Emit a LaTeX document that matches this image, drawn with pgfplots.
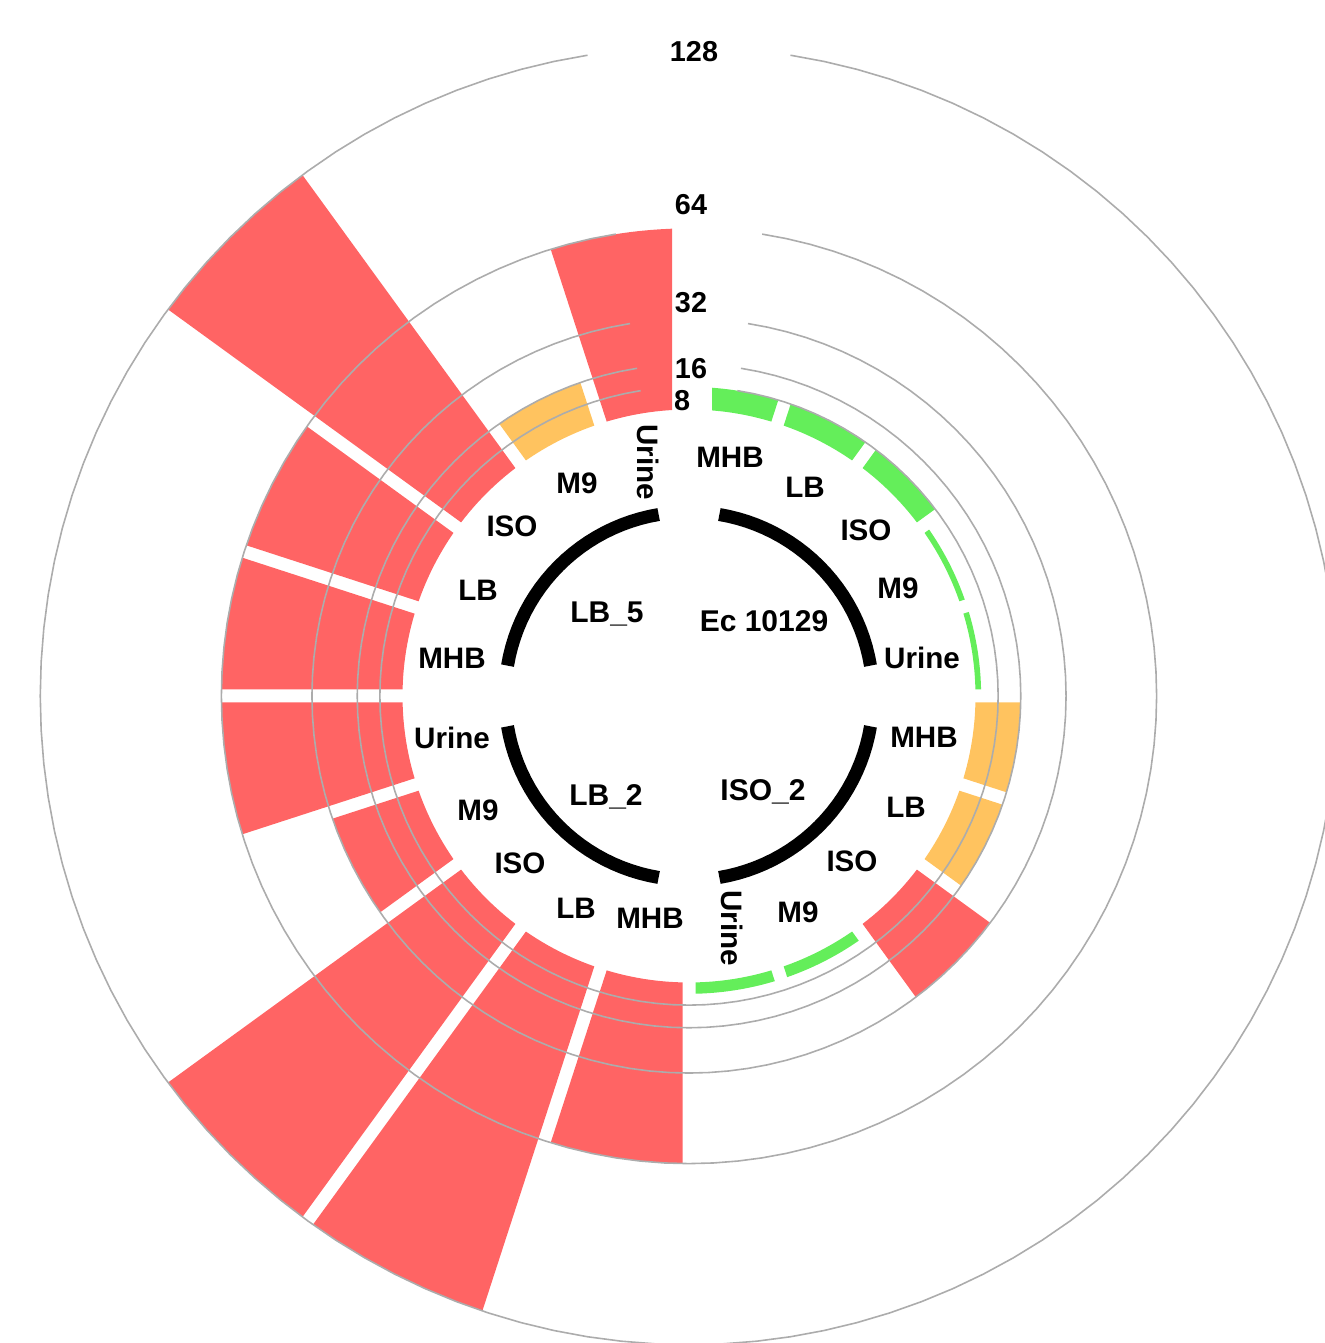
\documentclass[border=0pt]{standalone}
\usepackage{pgfplots}
\usepackage{pgfplotstable}
\pgfplotsset{compat=1.18}
\usepgfplotslibrary{polar}
\usepackage{fontspec}
\setmainfont{Liberation Sans}

\definecolor{barred}{RGB}{255,100,100}
\definecolor{barorange}{RGB}{255,195,95}
\definecolor{bargreen}{RGB}{100,238,90}
\definecolor{ringgray}{RGB}{172,172,172}

% radius (px) = \rz + \ks * value
\def\rz{286.5}
\def\ks{2.83}

% bars: slot (18 degrees each, clockwise from top), MIC value, colour
\pgfplotstableread{
slot value col
0  8   bargreen
1  8   bargreen
2  8   bargreen
3  2   bargreen
4  2   bargreen
5  16  barorange
6  16  barorange
7  32  barred
8  4   bargreen
9  4   bargreen
10 64  barred
11 128 barred
12 128 barred
13 32  barred
14 64  barred
15 64  barred
16 64  barred
17 128 barred
18 16  barorange
19 64  barred
}\bars

\newcommand\polarbar[3]{%
  \pgfmathsetmacro\bA{18*#1}%
  \pgfmathsetmacro\bB{18*(#1+1)}%
  \pgfmathsetmacro\pA{ifthenelse(#1==0,23,6.5)}%
  \pgfmathsetmacro\pB{ifthenelse(#1==19,17,6.5)}%
  \pgfmathsetmacro\Ro{\rz+\ks*#2}%
  \pgfmathsetmacro\oA{\bA+asin(\pA/\Ro)}%
  \pgfmathsetmacro\oB{\bB-asin(\pB/\Ro)}%
  \pgfmathsetmacro\iA{\bA+asin(\pA/\rz)}%
  \pgfmathsetmacro\iB{\bB-asin(\pB/\rz)}%
  \gdef\bl{}%
  \foreach \t in {0,...,12}{%
    \pgfmathsetmacro\ang{90-(\oA+(\oB-\oA)*\t/12)}%
    \xdef\bl{\bl (\ang,\Ro)}%
  }%
  \foreach \t in {0,...,12}{%
    \pgfmathsetmacro\ang{90-(\iB+(\iA-\iB)*\t/12)}%
    \xdef\bl{\bl (\ang,\rz)}%
  }%
  \edef\doplot{\noexpand\addplot[fill=#3,draw=none,data cs=polar] coordinates {\bl};}%
  \doplot
}

\newcommand\ring[1]{%
  \pgfmathsetmacro\Rr{\rz+\ks*#1}%
  \gdef\bl{}%
  \foreach \t in {0,...,114}{%
    \pgfmathsetmacro\ang{81-3*\t}%
    \xdef\bl{\bl (\ang,\Rr)}%
  }%
  \edef\doplot{\noexpand\addplot[ringgray,line width=0.8pt,data cs=polar] coordinates {\bl};}%
  \doplot
}

\newcommand\grouparc[1]{%
  \gdef\bl{}%
  \foreach \t in {0,...,24}{%
    \pgfmathsetmacro\ang{90-(#1-35.5+71*\t/24)}%
    \xdef\bl{\bl (\ang,184)}%
  }%
  \edef\doplot{\noexpand\addplot[black,line width=6.5pt,data cs=polar] coordinates {\bl};}%
  \doplot
}

\newcommand\labfont{\fontsize{14.8}{17}\selectfont\bfseries}
\newcommand\grpfont{\fontsize{15}{18}\selectfont\bfseries}
\newcommand\tickfont{\fontsize{14.4}{17}\selectfont\bfseries}

\begin{document}
\begin{tikzpicture}
\begin{axis}[
  width=662.5pt, height=671.5pt, scale only axis,
  xmin=-689, xmax=636, ymin=-647, ymax=696,
  hide axis, clip=true,
]
\pgfplotsinvokeforeach{0,...,19}{%
  \pgfplotstablegetelem{#1}{value}\of\bars \let\val\pgfplotsretval
  \pgfplotstablegetelem{#1}{col}\of\bars \let\colr\pgfplotsretval
  \polarbar{#1}{\val}{\colr}
}
\pgfplotsinvokeforeach{8,16,32,64,128}{\ring{#1}}
\pgfplotsinvokeforeach{45,135,225,315}{\grouparc{#1}}

% scale labels
\node[font=\tickfont] at (axis cs:-7,295) {8};
\node[font=\tickfont] at (axis cs:2,327) {16};
\node[font=\tickfont] at (axis cs:2,393) {32};
\node[font=\tickfont] at (axis cs:2,491) {64};
\node[font=\tickfont] at (axis cs:5,644) {128};

% group names
\node[font=\grpfont] at (axis cs:-82,82) {LB\_5};
\node[font=\grpfont] at (axis cs:75,75) {Ec 10129};
\node[font=\grpfont] at (axis cs:-83,-101) {LB\_2};
\node[font=\grpfont] at (axis cs:74,-96) {ISO\_2};

% medium labels
\node[font=\labfont] at (axis cs:41,239) {MHB};
\node[font=\labfont] at (axis cs:116,209) {LB};
\node[font=\labfont] at (axis cs:177,166) {ISO};
\node[font=\labfont] at (axis cs:209,108) {M9};
\node[font=\labfont] at (axis cs:233,38) {Urine};

\node[font=\labfont] at (axis cs:235,-41) {MHB};
\node[font=\labfont] at (axis cs:217,-111) {LB};
\node[font=\labfont] at (axis cs:163,-165) {ISO};
\node[font=\labfont] at (axis cs:109,-216) {M9};
\node[font=\labfont,rotate=-90] at (axis cs:43,-232) {Urine};

\node[font=\labfont] at (axis cs:-39,-222) {MHB};
\node[font=\labfont] at (axis cs:-113,-212) {LB};
\node[font=\labfont] at (axis cs:-169,-167) {ISO};
\node[font=\labfont] at (axis cs:-211,-114) {M9};
\node[font=\labfont] at (axis cs:-237,-42) {Urine};

\node[font=\labfont] at (axis cs:-237,38) {MHB};
\node[font=\labfont] at (axis cs:-211,106) {LB};
\node[font=\labfont] at (axis cs:-177,170) {ISO};
\node[font=\labfont] at (axis cs:-112,213) {M9};
\node[font=\labfont,rotate=-90] at (axis cs:-41,234) {Urine};
\end{axis}
\pgfresetboundingbox
\path[use as bounding box] (current axis.south west) rectangle (current axis.north east);
\end{tikzpicture}
\end{document}
